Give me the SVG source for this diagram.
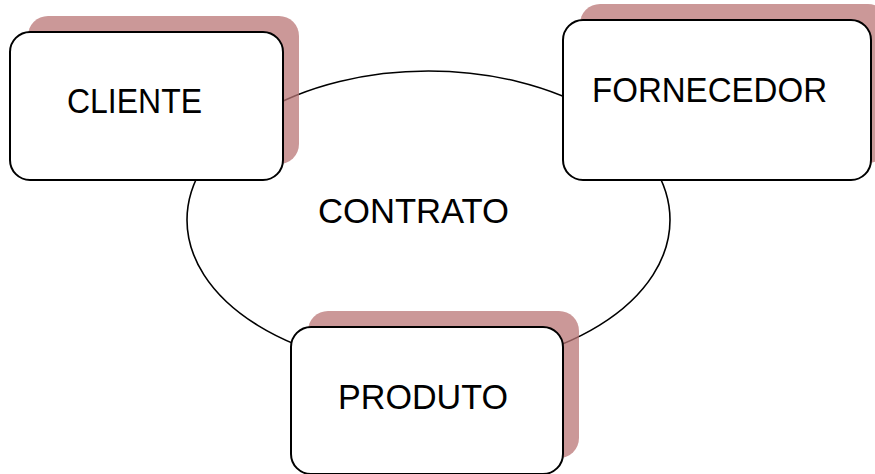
<svg xmlns="http://www.w3.org/2000/svg" width="875" height="474" viewBox="0 0 875 474">
<style>
.shadow{fill:#b97575;fill-opacity:0.75;}
.box{fill:#fff;stroke:#000;stroke-width:2;}
.lbl{font-family:"Liberation Sans",Arial,sans-serif;font-size:35px;fill:#000;}
</style>
<rect width="875" height="474" fill="#fff"/>
<g id="connectors">
<ellipse cx="428.5" cy="220" rx="241.5" ry="149" fill="none" stroke="#000" stroke-width="1.6"/>
</g>
<g id="contrato">
<text class="lbl" x="318" y="223" textLength="191" lengthAdjust="spacingAndGlyphs">CONTRATO</text>
</g>
<g id="cliente">
<rect class="shadow" x="28" y="16" width="271" height="148" rx="20"/>
<rect class="box" x="10" y="32" width="273" height="148" rx="20"/>
<text class="lbl" x="67" y="113" textLength="135" lengthAdjust="spacingAndGlyphs">CLIENTE</text>
</g>
<g id="fornecedor">
<rect class="shadow" x="580" y="4" width="308" height="159" rx="20"/>
<rect class="box" x="563" y="20" width="308" height="160" rx="20"/>
<text class="lbl" x="592" y="102" textLength="235" lengthAdjust="spacingAndGlyphs">FORNECEDOR</text>
</g>
<g id="produto">
<rect class="shadow" x="308" y="311" width="271" height="147" rx="20"/>
<rect class="box" x="291" y="327" width="272" height="147" rx="20"/>
<text class="lbl" x="338" y="409" textLength="170" lengthAdjust="spacingAndGlyphs">PRODUTO</text>
</g>
</svg>
